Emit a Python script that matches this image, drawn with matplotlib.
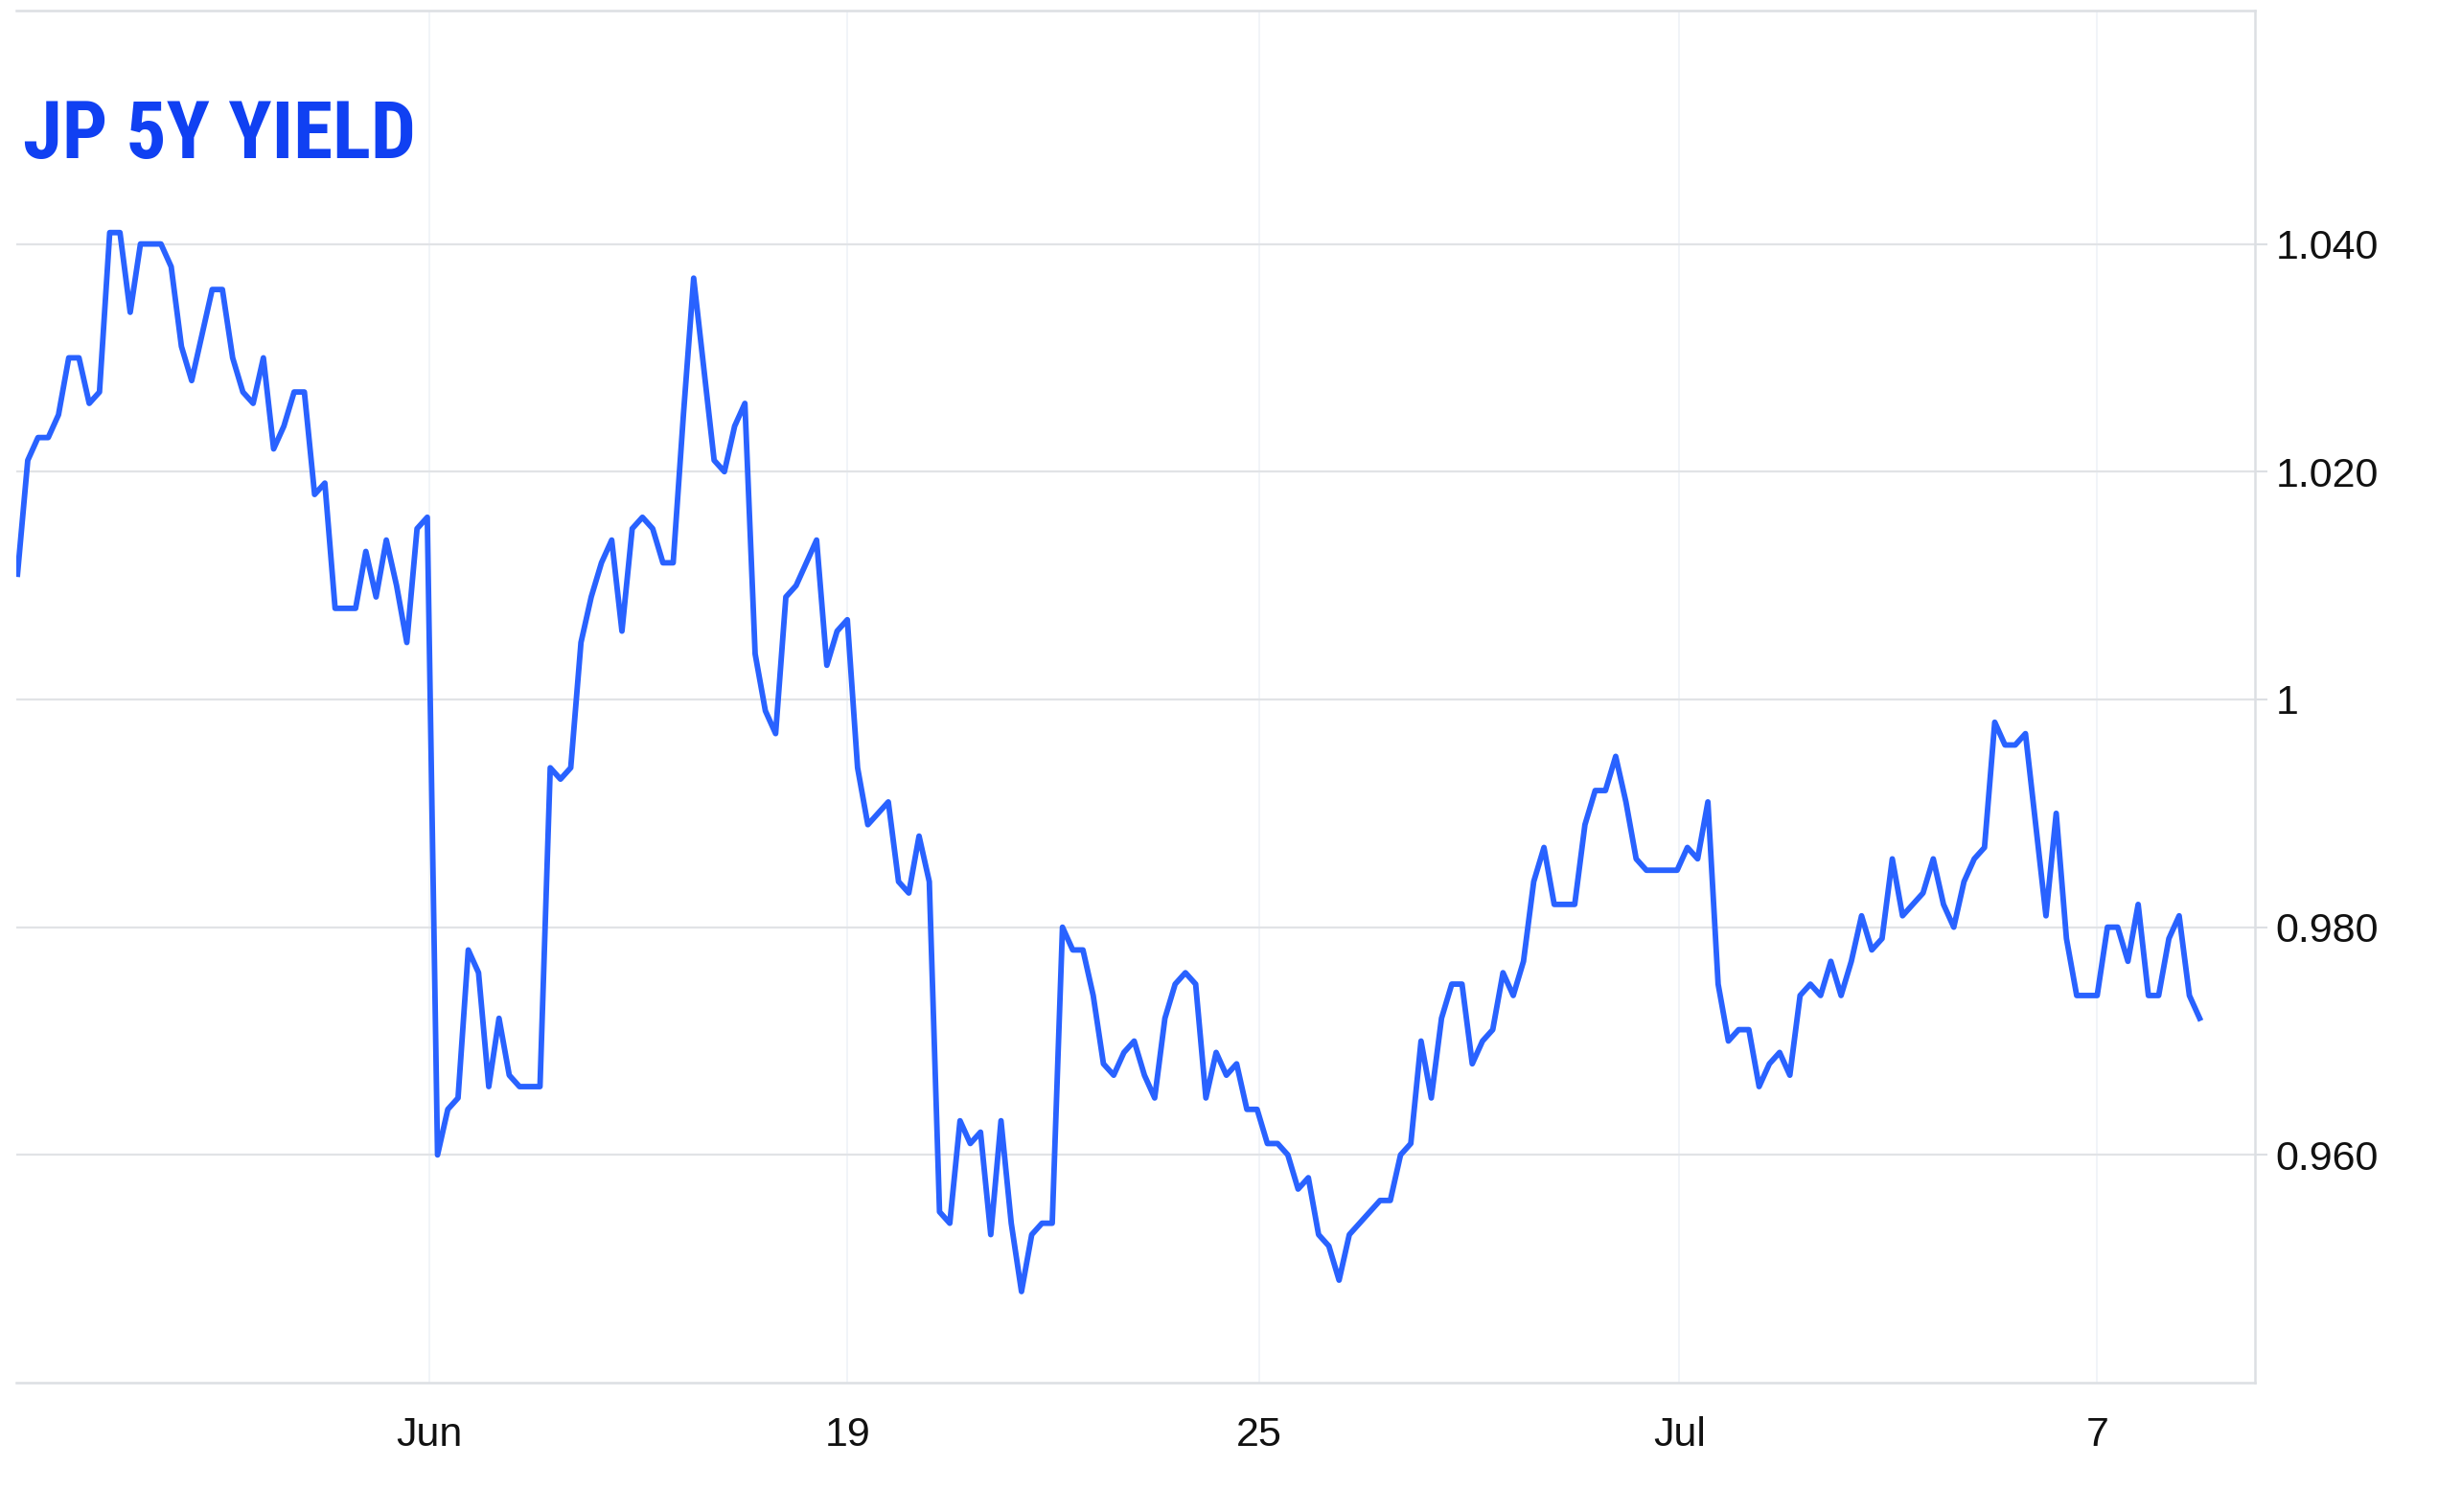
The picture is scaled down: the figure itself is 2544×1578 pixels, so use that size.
import matplotlib
matplotlib.use('Agg')
import matplotlib.pyplot as plt
from matplotlib import font_manager
import numpy as np

# JP 5Y yield, one value per bar
yields = [
    1.011, 1.021, 1.023, 1.023, 1.025, 1.030, 1.030, 1.026, 1.027, 1.041,
    1.041, 1.034, 1.040, 1.040, 1.040, 1.038, 1.031, 1.028, 1.032, 1.036,
    1.036, 1.030, 1.027, 1.026, 1.030, 1.022, 1.024, 1.027, 1.027, 1.018,
    1.019, 1.008, 1.008, 1.008, 1.013, 1.009, 1.014, 1.010, 1.005, 1.015,
    1.016, 0.960, 0.964, 0.965, 0.978, 0.976, 0.966, 0.972, 0.967, 0.966,
    0.966, 0.966, 0.994, 0.993, 0.994, 1.005, 1.009, 1.012, 1.014, 1.006,
    1.015, 1.016, 1.015, 1.012, 1.012, 1.025, 1.037, 1.029, 1.021, 1.020,
    1.024, 1.026, 1.004, 0.999, 0.997, 1.009, 1.010, 1.012, 1.014, 1.003,
    1.006, 1.007, 0.994, 0.989, 0.990, 0.991, 0.984, 0.983, 0.988, 0.984,
    0.955, 0.954, 0.963, 0.961, 0.962, 0.953, 0.963, 0.954, 0.948, 0.953,
    0.954, 0.954, 0.980, 0.978, 0.978, 0.974, 0.968, 0.967, 0.969, 0.970,
    0.967, 0.965, 0.972, 0.975, 0.976, 0.975, 0.965, 0.969, 0.967, 0.968,
    0.964, 0.964, 0.961, 0.961, 0.960, 0.957, 0.958, 0.953, 0.952, 0.949,
    0.953, 0.954, 0.955, 0.956, 0.956, 0.960, 0.961, 0.970, 0.965, 0.972,
    0.975, 0.975, 0.968, 0.970, 0.971, 0.976, 0.974, 0.977, 0.984, 0.987,
    0.982, 0.982, 0.982, 0.989, 0.992, 0.992, 0.995, 0.991, 0.986, 0.985,
    0.985, 0.985, 0.985, 0.987, 0.986, 0.991, 0.975, 0.970, 0.971, 0.971,
    0.966, 0.968, 0.969, 0.967, 0.974, 0.975, 0.974, 0.977, 0.974, 0.977,
    0.981, 0.978, 0.979, 0.986, 0.981, 0.982, 0.983, 0.986, 0.982, 0.980,
    0.984, 0.986, 0.987, 0.998, 0.996, 0.996, 0.997, 0.989, 0.981, 0.990,
    0.979, 0.974, 0.974, 0.974, 0.980, 0.980, 0.977, 0.982, 0.974, 0.974,
    0.979, 0.981, 0.974, 0.972,
]

# date ticks sit on bar positions (the axis skips non-trading time)
date_ticks = [40.2, 81.0, 121.2, 162.2, 203.0]
date_labels = ['Jun', '19', '25', 'Jul', '7']

yield_ticks = [0.960, 0.980, 1.000, 1.020, 1.040]
yield_labels = ['0.960', '0.980', '1', '1.020', '1.040']

title = 'JP 5Y YIELD'

plt.rcParams['font.family'] = ['Liberation Sans', 'DejaVu Sans']

# pick a narrow family for the headline if one is installed
installed = {f.name for f in font_manager.fontManager.ttflist}
title_font = 'DejaVu Sans'
for cand in ['Roboto Condensed', 'Liberation Sans Narrow', 'Open Sans Condensed']:
    if cand in installed:
        title_font = cand
        break

fig = plt.figure(figsize=(25.44, 15.78), dpi=100)
ax = fig.add_axes([0.00668, 0.08555, 0.91824, 0.90748])

x = np.arange(len(yields))
ax.plot(x, yields, color='#2962ff', linewidth=4.2, solid_joinstyle='round', zorder=3)

ax.set_xlim(-0.12, 218.4)
ax.set_ylim(0.940, 1.0605)

ax.yaxis.tick_right()
ax.set_yticks(yield_ticks)
ax.set_yticklabels(yield_labels)
ax.set_xticks(date_ticks)
ax.set_xticklabels(date_labels)

ax.tick_params(axis='y', length=9.4, width=1.5, color='#dcdfe3', pad=6,
               labelsize=31, labelcolor='#111111')
ax.tick_params(axis='x', length=0, pad=25, labelsize=31, labelcolor='#111111')

ax.grid(axis='y', color='#e1e3e6', linewidth=1.6)
ax.grid(axis='x', color='#eef1f6', linewidth=1.1)
ax.set_axisbelow(True)

ax.spines['left'].set_visible(False)
for side in ['top', 'bottom', 'right']:
    ax.spines[side].set_color('#dcdfe3')
    ax.spines[side].set_linewidth(1.8)

# headline, vertically centred where the original sits
fig.text(24 / 2544, 1 - 142 / 1578, title, ha='left', va='center',
         fontsize=60, fontweight='bold', color='#1040f2', family=title_font,
         fontstretch='condensed')

plt.savefig('out.png', dpi=100)
plt.close()
